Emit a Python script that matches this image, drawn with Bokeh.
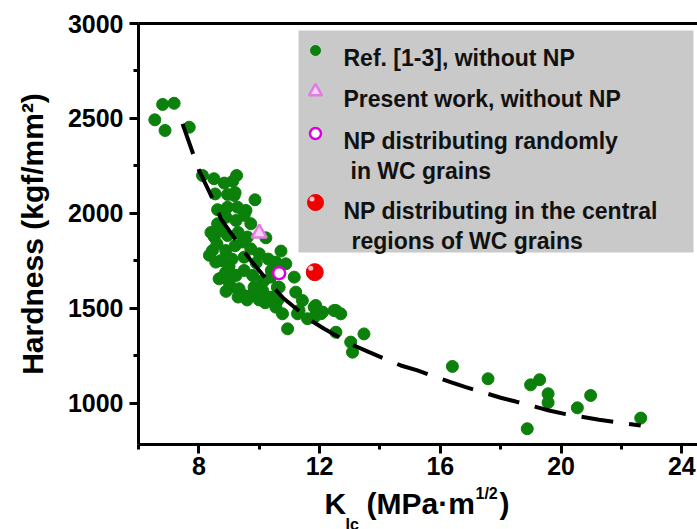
from bokeh.plotting import figure
from bokeh.models import FixedTicker, LinearAxis, Range1d
from bokeh.layouts import column
from bokeh.core.properties import value
from bokeh.embed import file_html
from bokeh.resources import INLINE

# ---------------- data ----------------
ref_kic = [6.54, 6.80, 7.18, 6.88, 7.68,
           8.12, 8.50, 8.84, 9.12, 9.25,
           8.54, 8.95, 9.17, 9.20, 9.86,
           8.62, 8.95, 9.28, 9.56, 8.90, 9.50,
           8.62, 9.23, 9.72, 8.51, 8.95, 9.61, 10.22, 9.30, 8.75,
           8.45, 8.89, 9.72, 10.00, 9.20, 8.60, 9.45, 8.35, 8.40,
           8.73, 8.56, 9.10, 9.50, 9.90, 10.30,
           8.67, 9.00, 8.78, 8.89, 9.23, 9.78, 10.16, 9.50, 10.40, 9.00,
           9.06, 9.33, 9.83, 10.11, 10.38, 9.50, 9.78, 9.56, 10.27, 10.60, 10.38, 10.11,
           9.30, 9.60, 10.20, 10.00, 8.90,
           10.72, 10.55, 10.88, 11.16, 10.66, 11.21, 11.43, 10.61, 10.77, 11.27,
           11.82, 12.04, 12.48, 12.70, 10.94, 12.54, 13.47, 13.03, 13.09, 11.60,
           11.82, 10.55, 11.32, 11.87, 12.10, 12.54,
           16.40, 17.58, 18.99, 19.29, 19.57, 19.57, 20.98, 20.54, 22.64, 18.88]
ref_hv = [2493, 2574, 2580, 2437, 2454,
          2200, 2183, 2160, 2170, 2200,
          2103, 2100, 2095, 2110, 2072,
          2020, 2033, 2033, 2016, 1980, 1990,
          1946, 1963, 1946, 1876, 1884, 1876, 1872, 1900, 1910,
          1805, 1805, 1814, 1788, 1830, 1840, 1850, 1780, 1900,
          1752, 1744, 1760, 1770, 1740, 1760,
          1656, 1638, 1665, 1691, 1674, 1674, 1647, 1700, 1700, 1720,
          1612, 1604, 1612, 1595, 1560, 1568, 1577, 1560, 1560, 1612, 1665, 1647,
          1560, 1545, 1530, 1545, 1590,
          1802, 1744, 1735, 1665, 1612, 1586, 1542, 1542, 1472, 1472,
          1507, 1472, 1489, 1472, 1393, 1375, 1366, 1323, 1270, 1446,
          1454, 1507, 1489, 1516, 1481, 1489,
          1195, 1130, 1098, 1125, 1051, 1005, 1042, 977, 923, 867]

present_kic = [10.00]
present_hv = [1896]
random_kic = [10.66]
random_hv = [1686]
central_kic = [11.84]
central_hv = [1691]

fit_kic = [7.46, 7.84, 8.01, 8.51, 8.73, 9.39, 9.72, 10.46, 10.82, 11.71, 12.15, 13.14,
           13.64, 14.69, 15.24, 16.34, 16.84, 18.00, 18.50, 19.60, 20.15, 21.26, 21.81, 22.64]
fit_hv = [2472, 2300, 2225, 2059, 1972, 1823, 1753, 1612, 1551, 1437, 1393, 1305,
          1270, 1200, 1174, 1112, 1086, 1030, 1010, 963, 944, 914, 902, 884]

x_ticks = [8, 12, 16, 20, 24]
x_minor = [6, 10, 14, 18, 22]
y_ticks = [1000, 1500, 2000, 2500, 3000]
y_minor = [1250, 1750, 2250, 2750]

legend_labels = ["Ref. [1-3], without NP",
                 "Present work, without NP",
                 "NP distributing randomly",
                 "in WC grains",
                 "NP distributing in the central",
                 "regions of WC grains"]

x_title_parts = ["K", "Ic", "(MPa\u00b7m", "1/2", ")"]

# ---------------- layout helpers ----------------
W, H_MAIN, H_TOTAL = 697, 484, 529
H_TITLE = H_TOTAL - H_MAIN
X0, X1, Y0, Y1 = 6.0, 24.52, 784.0, 3000.0
FL, FR, FT, FB = 138, 697, 23, 444


def X(px):
    return X0 + (px - FL) * (X1 - X0) / (FR - FL)


def Y(py):
    return Y1 - (py - FT) * (Y1 - Y0) / (FB - FT)


def TY(py):
    # vertical position inside the title strip below the main plot
    return H_TITLE - (py - H_MAIN)


FONT = "Liberation Sans"
GREEN = "#0b800b"

p = figure(width=W, height=H_MAIN, x_range=Range1d(X0, X1), y_range=Range1d(Y0, Y1),
           output_backend="svg", toolbar_location=None,
           min_border_left=FL, min_border_right=0, min_border_top=FT,
           min_border_bottom=H_MAIN - FB)
p.outline_line_color = None
p.xgrid.visible = False
p.ygrid.visible = False
p.background_fill_color = "white"
p.border_fill_color = "white"

for ax, ticks, minor in ((p.xaxis[0], x_ticks, x_minor), (p.yaxis[0], y_ticks, y_minor)):
    ax.ticker = FixedTicker(ticks=ticks, minor_ticks=minor)
    ax.axis_line_width = 3
    ax.major_tick_line_width = 3
    ax.minor_tick_line_width = 3
    ax.major_tick_out = 9
    ax.major_tick_in = 0
    ax.minor_tick_out = 5
    ax.minor_tick_in = 0
    ax.major_label_text_font = FONT
    ax.major_label_text_font_style = "bold"
    ax.major_label_text_font_size = "25px"
    ax.major_label_text_color = "black"

p.xaxis[0].major_label_standoff = 3
p.yaxis[0].major_label_standoff = 6
p.yaxis[0].axis_label = "Hardness (kgf/mm\u00b2)"
p.yaxis[0].axis_label_text_font = FONT
p.yaxis[0].axis_label_text_font_style = "bold"
p.yaxis[0].axis_label_text_font_size = "30px"
p.yaxis[0].axis_label_text_color = "black"
p.yaxis[0].axis_label_standoff = 16

top_axis = LinearAxis(ticker=FixedTicker(ticks=[]), axis_line_width=3,
                      major_tick_line_color=None, minor_tick_line_color=None,
                      major_label_text_font_size="0px")
p.add_layout(top_axis, "above")

# legend box (beneath everything)
p.quad(left=[X(298)], right=[X(693)], top=[Y(30)], bottom=[Y(252)],
       fill_color="#c9c9c9", line_color=None)

# data
p.scatter(ref_kic, ref_hv, size=12, fill_color=GREEN, line_color=GREEN)
p.line(fit_kic, fit_hv, line_color="black", line_width=4, line_dash="32 16")
p.scatter(present_kic, present_hv, marker="triangle", size=15,
          fill_color="#f9d4f9", line_color="#e27be2", line_width=2.5)
p.scatter(random_kic, random_hv, size=12, fill_color="white",
          line_color="#dd00dd", line_width=2.5)
p.scatter(central_kic, central_hv, size=17, fill_color="#f20000", line_color="#e00000")
p.scatter([central_kic[0] - 4 * (X1 - X0) / (FR - FL)],
          [central_hv[0] + 4 * (Y1 - Y0) / (FB - FT)],
          size=5, fill_color="white", fill_alpha=0.75, line_color=None)

# legend markers
mx = X(315)
p.scatter([mx], [Y(50)], size=10, fill_color=GREEN, line_color=GREEN)
p.scatter([mx], [Y(91)], marker="triangle", size=13,
          fill_color="#f9d4f9", line_color="#e27be2", line_width=2.5)
p.scatter([mx], [Y(133)], size=11, fill_color="white", line_color="#dd00dd", line_width=2.5)
p.scatter([mx], [Y(202)], size=16, fill_color="#f20000", line_color="#e00000")
p.scatter([mx - 3.5 * (X1 - X0) / (FR - FL)], [Y(202) + 3.5 * (Y1 - Y0) / (FB - FT)],
          size=5, fill_color="white", fill_alpha=0.75, line_color=None)

# legend texts
lx = [X(343), X(343), X(343), X(350), X(343), X(351)]
ly = [Y(57), Y(98), Y(140), Y(170), Y(210), Y(240)]
p.text(lx, ly, text=legend_labels, text_font=value(FONT), text_font_style="bold",
       text_font_size="23px", text_color="#111111", text_baseline="alphabetic",
       text_align="left")

# ---------------- x-axis title strip: K_Ic (MPa·m^1/2) ----------------
# frame of this strip lines up with the main frame horizontally
t = figure(width=W, height=H_TITLE, x_range=Range1d(X0, X1), y_range=Range1d(0, H_TITLE),
           output_backend="svg", toolbar_location=None,
           min_border_left=FL, min_border_right=0, min_border_top=0, min_border_bottom=0)
t.axis.visible = False
t.xgrid.visible = False
t.ygrid.visible = False
t.outline_line_color = None
t.background_fill_color = "white"
t.border_fill_color = "white"

big = dict(text_font=value(FONT), text_font_style="bold", text_font_size="30px",
           text_color="black", text_baseline="alphabetic", text_align="left")
small = dict(text_font=value(FONT), text_font_style="bold", text_font_size="16px",
             text_color="black", text_baseline="top", text_align="left")
t.text([X(324)], [TY(503)], text=[x_title_parts[0]], **big)
t.text([X(345)], [TY(515)], text=[x_title_parts[1]], **small)
t.text([X(366)], [TY(503)], text=[x_title_parts[2]], **big)
t.text([X(475)], [TY(484)], text=[x_title_parts[3]], **small)
t.text([X(499)], [TY(503)], text=[x_title_parts[4]], **big)

layout = column(p, t, spacing=0)
open("out.html", "w").write(file_html(layout, INLINE))
